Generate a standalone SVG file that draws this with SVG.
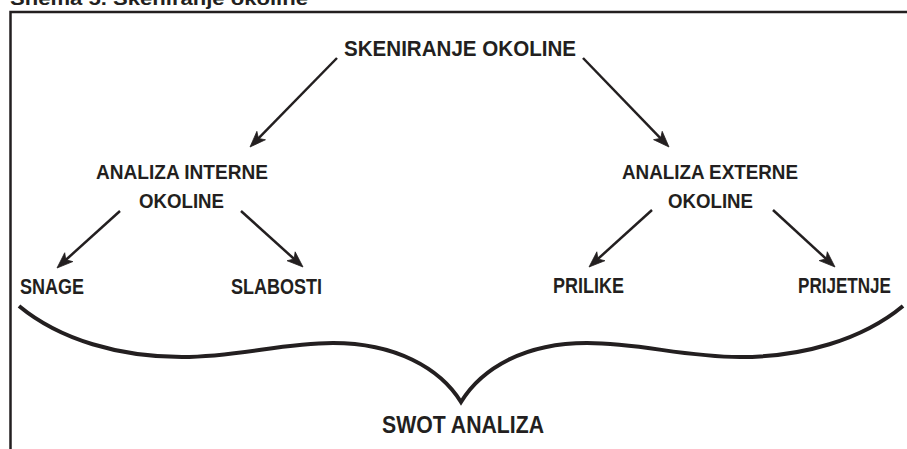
<svg xmlns="http://www.w3.org/2000/svg" width="907" height="449" viewBox="0 0 907 449">
  <defs>
    <style>
      .t { font-family: "Liberation Sans", Arial, sans-serif; font-weight: bold; fill: #231f20; }
      .c { stroke: #231f20; stroke-width: 2.5; fill: none; }
      .h { fill: #231f20; stroke: #231f20; stroke-width: 0.8; stroke-linejoin: miter; }
    </style>
  </defs>
  <rect width="907" height="449" fill="#ffffff"/>

  <g id="title">
    <text class="t" x="10" y="5" font-size="18" textLength="298" lengthAdjust="spacingAndGlyphs">Shema 5. Skeniranje okoline</text>
  </g>
  <g id="frame">
    <path d="M10.5,449 V12 H907" stroke="#231f20" stroke-width="2.5" fill="none"/>
  </g>

  <g id="connectors">
    <line class="c" x1="337" y1="58" x2="256.99" y2="139.85"/>
    <path class="h" d="M250,147 L265.47,139.75 L258.39,138.42 L256.89,131.37 Z"/>
    <line class="c" x1="583" y1="58" x2="662.05" y2="139.81"/>
    <path class="h" d="M669,147 L653.57,139.67 L660.66,138.37 L662.19,131.33 Z"/>
    <line class="c" x1="120" y1="211" x2="64.36" y2="261.23"/>
    <path class="h" d="M57,268 L72.83,261.58 L65.83,259.87 L64.71,252.74 Z"/>
    <line class="c" x1="241" y1="211" x2="295.58" y2="260.3"/>
    <path class="h" d="M303,267 L287.11,260.73 L294.1,258.96 L295.15,251.83 Z"/>
    <line class="c" x1="652" y1="210" x2="596.42" y2="260.29"/>
    <path class="h" d="M589,267 L604.9,260.71 L597.9,258.95 L596.84,251.81 Z"/>
    <line class="c" x1="773" y1="210" x2="827.64" y2="260.23"/>
    <path class="h" d="M835,267 L819.16,260.59 L826.17,258.88 L827.28,251.75 Z"/>
  </g>

  <g id="brace">
    <path d="M19,306 C60,340 120,357 182,357 C240,357 280,343 333,343 C395,343 440,368 461,402 C482,368 525,343 587,343 C642,343 682,357 740,357 C802,357 862,340 903,306" stroke="#231f20" stroke-width="4" fill="none" stroke-linejoin="miter" stroke-miterlimit="10"/>
  </g>

  <g id="skeniranje">
    <text class="t" x="344" y="56" font-size="22" textLength="232" lengthAdjust="spacingAndGlyphs">SKENIRANJE OKOLINE</text>
  </g>
  <g id="interna">
    <text class="t" x="96" y="179" font-size="21" textLength="172" lengthAdjust="spacingAndGlyphs">ANALIZA INTERNE</text>
    <text class="t" x="139" y="208" font-size="21" textLength="85" lengthAdjust="spacingAndGlyphs">OKOLINE</text>
  </g>
  <g id="eksterna">
    <text class="t" x="622" y="179" font-size="21" textLength="176" lengthAdjust="spacingAndGlyphs">ANALIZA EXTERNE</text>
    <text class="t" x="668" y="208" font-size="21" textLength="85" lengthAdjust="spacingAndGlyphs">OKOLINE</text>
  </g>
  <g id="snage">
    <text class="t" x="20" y="294" font-size="22" textLength="64" lengthAdjust="spacingAndGlyphs">SNAGE</text>
  </g>
  <g id="slabosti">
    <text class="t" x="231" y="294" font-size="22" textLength="91" lengthAdjust="spacingAndGlyphs">SLABOSTI</text>
  </g>
  <g id="prilike">
    <text class="t" x="553" y="293" font-size="22" textLength="71" lengthAdjust="spacingAndGlyphs">PRILIKE</text>
  </g>
  <g id="prijetnje">
    <text class="t" x="798" y="293" font-size="22" textLength="93" lengthAdjust="spacingAndGlyphs">PRIJETNJE</text>
  </g>
  <g id="swot">
    <text class="t" x="382" y="433" font-size="23" textLength="162" lengthAdjust="spacingAndGlyphs">SWOT ANALIZA</text>
  </g>
</svg>
